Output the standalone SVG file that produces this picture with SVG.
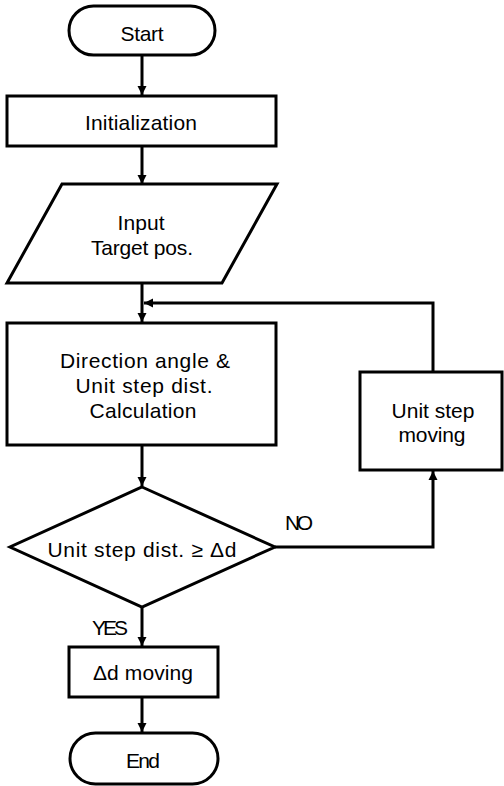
<svg xmlns="http://www.w3.org/2000/svg" width="504" height="786" viewBox="0 0 504 786">
<style>
.s{fill:#fff;stroke:#000;stroke-width:3}
.c{fill:none;stroke:#000;stroke-width:3}
text{font-family:"Liberation Sans",Arial,sans-serif;font-size:21px;fill:#000;text-anchor:middle}
.l{text-anchor:start}
</style>
<defs>
<marker id="a" viewBox="0 0 10 10" refX="10" refY="5" markerWidth="9" markerHeight="10" markerUnits="userSpaceOnUse" orient="auto">
<path d="M0,0L10,5L0,10z" fill="#000"/>
</marker>
</defs>
<rect width="504" height="786" fill="#fff"/>
<g id="connectors">
<path class="c" d="M142,55V95" marker-end="url(#a)"/>
<path class="c" d="M142,146V184" marker-end="url(#a)"/>
<path class="c" d="M142,283V322" marker-end="url(#a)"/>
<path class="c" d="M433,372V303H144" marker-end="url(#a)"/>
<path class="c" d="M142,445V486" marker-end="url(#a)"/>
<path class="c" d="M275,547H433V471" marker-end="url(#a)"/>
<path class="c" d="M142,607V646" marker-end="url(#a)"/>
<path class="c" d="M142,697V732" marker-end="url(#a)"/>
<text class="l" x="285" y="530" textLength="28">NO</text>
<text class="l" x="92" y="635" textLength="36">YES</text>
</g>
<g id="start">
<rect class="s" x="69" y="6" width="146" height="49" rx="24.5"/>
<text x="142" y="41" textLength="43">Start</text>
</g>
<g id="init">
<rect class="s" x="7" y="96" width="269" height="50"/>
<text x="141" y="130" textLength="112">Initialization</text>
</g>
<g id="input">
<path class="s" d="M62,184H277L222,283H7z"/>
<text x="141" y="230" textLength="47">Input</text>
<text x="142" y="255" textLength="102">Target pos.</text>
</g>
<g id="calc">
<rect class="s" x="7" y="323" width="269" height="122"/>
<text x="145" y="368" textLength="170">Direction angle &amp;</text>
<text x="144" y="393" textLength="137">Unit step dist.</text>
<text x="143" y="418" textLength="107">Calculation</text>
</g>
<g id="decision">
<path class="s" d="M142,487L275,547L142,607L10,547z"/>
<text x="142" y="557" textLength="189">Unit step dist. ≥ Δd</text>
</g>
<g id="unitmove">
<rect class="s" x="360" y="372" width="142" height="98"/>
<text x="433" y="418" textLength="83">Unit step</text>
<text x="432" y="442" textLength="67">moving</text>
</g>
<g id="dmove">
<rect class="s" x="69" y="647" width="149" height="50"/>
<text x="143" y="680" textLength="100">Δd moving</text>
</g>
<g id="end">
<rect class="s" x="70" y="733" width="148" height="51" rx="25.5"/>
<text x="143" y="768" textLength="34">End</text>
</g>
</svg>
